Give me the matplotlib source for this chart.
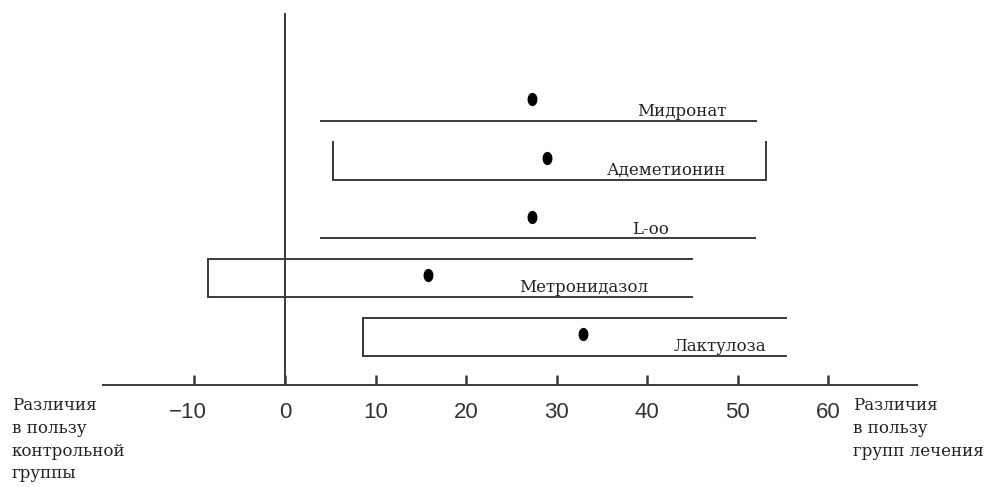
import matplotlib
matplotlib.use('Agg')
import matplotlib.pyplot as plt
from matplotlib.path import Path
from matplotlib import font_manager
import numpy as np

# ---- data ----
drugs = ['Мидронат', 'Адеметионин', 'L-oo', 'Метронидазол', 'Лактулоза']
ci_low = [3.9, 5.3, 3.9, -8.5, 8.6]
ci_high = [52.1, 53.1, 52.0, 45.0, 55.4]
point_est = [27.3, 29.0, 27.3, 15.8, 32.9]
shapes = ['line', 'bracket', 'line', 'open_right', 'open_right']
label_x = [43.8, 42.2, 40.4, 33.0, 48.1]
xticks = [-10, 0, 10, 20, 30, 40, 50, 60]
left_note = 'Различия\nв пользу\nконтрольной\nгруппы'
right_note = 'Различия\nв пользу\nгрупп лечения'

# ---- fonts ----
tick_family = 'Liberation Sans'
serif = 'DejaVu Serif'

W, H, DPI = 990, 487, 100
fig = plt.figure(figsize=(W / DPI, H / DPI), dpi=DPI)
ax = fig.add_axes([0, 0, 1, 1])
ax.set_axis_off()

px_per_unit = 9.05
x0_px = 285
row0_px = 121
row_px = 58.7
ax.set_xlim(-x0_px / px_per_unit, (W - x0_px) / px_per_unit)
ax.set_ylim((H - row0_px) / row_px, -row0_px / row_px)

col = '#3a3a3a'
lw = 1.4

box_h = 0.65
dot_off = 0.37
axis_y = 4.5

# elliptical dot marker
t = np.linspace(0, 2 * np.pi, 60)
ell = Path(np.column_stack([0.72 * np.cos(t), np.sin(t)]), closed=True)

for i, (lo, hi, pe, shp, name, lx) in enumerate(zip(ci_low, ci_high, point_est, shapes, drugs, label_x)):
    y = i
    ytop = y - box_h
    if shp == 'line':
        ax.plot([lo, hi], [y, y], color=col, lw=lw, solid_capstyle='butt')
    elif shp == 'bracket':
        ax.plot([lo, lo, hi, hi], [ytop, y, y, ytop], color=col, lw=lw, solid_joinstyle='miter')
    elif shp == 'open_right':
        ax.plot([hi, lo, lo, hi], [ytop, ytop, y, y], color=col, lw=lw, solid_joinstyle='miter')
    ax.plot([pe], [y - dot_off], marker=ell, color='black', markersize=8.5, linestyle='none')
    ax.text(lx, y - 0.08, name, ha='center', va='baseline', fontsize=12, family=serif, color='#222222')

# x axis
ax.plot([-20.2, 69.9], [axis_y, axis_y], color=col, lw=lw, solid_capstyle='butt')
# zero line
ax.plot([0, 0], [-1.84, axis_y], color=col, lw=lw, solid_capstyle='butt')
for xt in xticks:
    ax.plot([xt, xt], [axis_y, axis_y - 10 / row_px], color=col, lw=1.8, solid_capstyle='butt')
    lab = str(xt).replace('-', '\u2212')
    off = -5 if xt < 0 else 0
    ax.annotate(lab, xy=(xt, 4.97), xytext=(off, 0), textcoords='offset points',
                ha='center', va='center', fontsize=16, family=tick_family, color='#333333')

ax.text(-30.2, 4.70, left_note, ha='left', va='top', fontsize=12, family=serif,
        color='#222222', linespacing=1.45)
ax.text(62.8, 4.70, right_note, ha='left', va='top', fontsize=12, family=serif,
        color='#222222', linespacing=1.45)

fig.savefig('out.png', dpi=DPI, facecolor='white')
